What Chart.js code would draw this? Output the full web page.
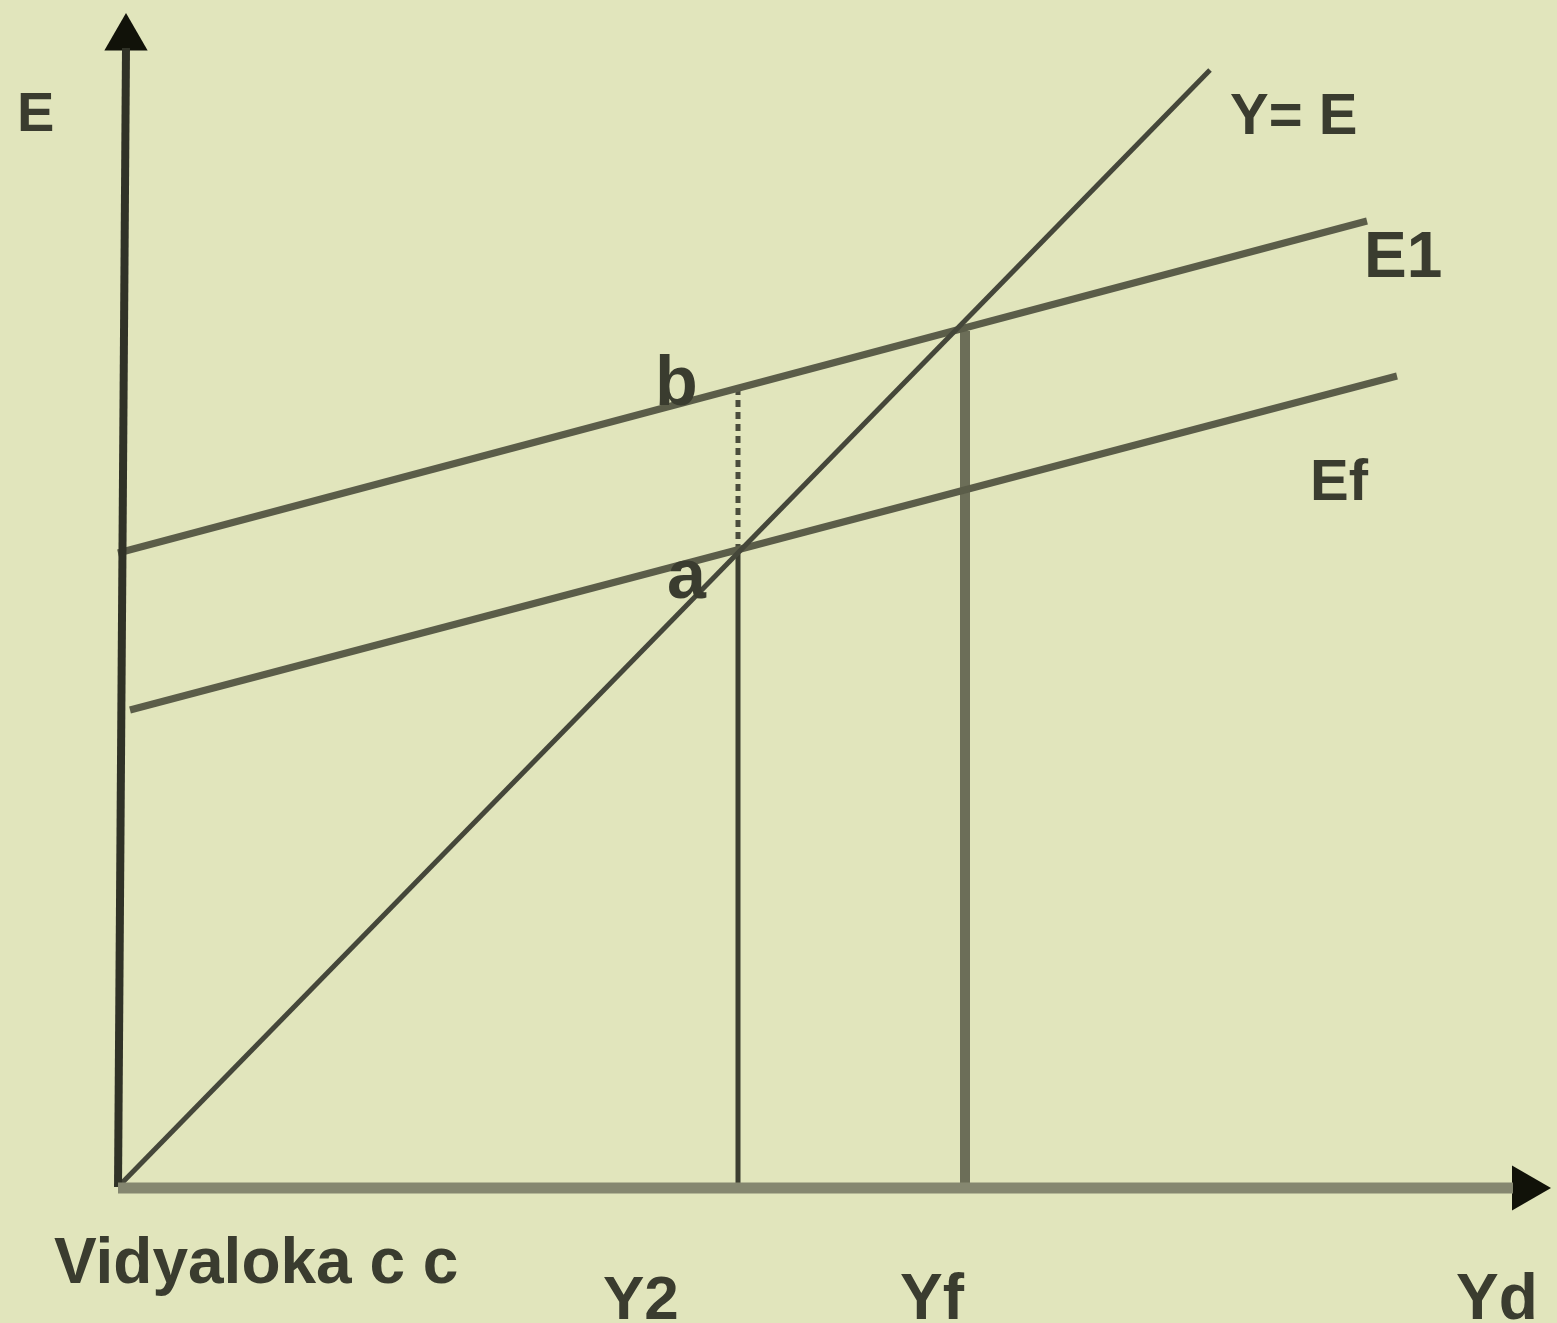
<!DOCTYPE html>
<html><head><meta charset="utf-8">
<script src="https://cdn.jsdelivr.net/npm/chart.js@4/dist/chart.umd.min.js"></script>
<style>html,body{margin:0;padding:0;background:#e1e5bc;overflow:hidden}#wrap{width:1557px;height:1323px}</style>
</head><body><div id="wrap"><canvas id="c" width="1557" height="1323"></canvas></div>
<script>
// Values (income Yd on x, expenditure E on y)
const yEqE_x = [0, 109.2];
const yEqE_y = [0, 111.7];
const e1_x = [0, 124.9];
const e1_y = [63.4, 96.6];
const ef_x = [1.2, 127.9];
const ef_y = [47.7, 81.1];
const y2Income = 62.0;
const yfIncome = 84.7;
const aLevel = 63.6;
const bLevel = 79.7;
const fLevel = 85.6;
const xAxisEnd = 140.7;
const yAxisTop = 114.9;
const labels = ['E', 'Y= E', 'E1', 'Ef', 'b', 'a', 'Vidyaloka c c', 'Y2', 'Yf', 'Yd'];
const labelX = [-10.1, 111.2, 124.6, 119.2, 53.7, 54.9, -6.4, 48.5, 78.2, 133.8];
const labelY = [105.6, 105.3, 91.0, 68.7, 78.2, 58.9, -9.6, -13.2, -13.2, -13.2];

const labelStyle = [
  {size:56}, {size:58}, {size:64}, {size:58}, {size:70}, {size:70},
  {size:64}, {size:62}, {size:64}, {size:64}
];

const pts = (xs, ys) => xs.map((x, i) => ({x, y: ys[i]}));

const bgPlugin = {
  id: 'bg',
  beforeDraw(chart) {
    const c = chart.ctx;
    c.save(); c.fillStyle = '#e1e5bc'; c.fillRect(0, 0, chart.width, chart.height); c.restore();
  }
};
const textPlugin = {
  id: 'texts',
  afterDatasetsDraw(chart) {
    const c = chart.ctx, sx = chart.scales.x, sy = chart.scales.y;
    c.save();
    c.fillStyle = '#3a3c2f';
    c.textBaseline = 'alphabetic';
    c.textAlign = 'left';
    labels.forEach((t, i) => {
      c.font = 'bold ' + labelStyle[i].size + 'px "Liberation Sans", Arial, sans-serif';
      c.fillText(t, sx.getPixelForValue(labelX[i]), sy.getPixelForValue(labelY[i]));
    });
    c.restore();
  }
};

const line = (data, color, width, extra) => Object.assign({
  data, showLine: true, borderColor: color, borderWidth: width, pointRadius: 0,
  fill: false, clip: false, tension: 0, borderCapStyle: 'butt'
}, extra || {});

new Chart(document.getElementById('c'), {
  type: 'scatter',
  data: {
    datasets: [
      line(pts([0, xAxisEnd - 1.2], [-0.1, -0.1]), '#858770', 11),
      line(pts([0, 0.8], [0, yAxisTop - 1]), '#303227', 8),
      line(pts(yEqE_x, yEqE_y), '#45473a', 5),
      line(pts(e1_x, e1_y), '#5b5d49', 7),
      line(pts(ef_x, ef_y), '#5b5d49', 7),
      line(pts([y2Income, y2Income], [0, aLevel]), '#3c3e31', 5),
      line(pts([y2Income, y2Income], [aLevel, bLevel]), '#4a4c3c', 5, {borderDash: [7, 5]}),
      line(pts([yfIncome, yfIncome], [0, fLevel]), '#6c6e58', 10),
      {data: [{x: 0.8, y: yAxisTop}], showLine: false, pointStyle: 'triangle', rotation: 0,
       pointRadius: 25, backgroundColor: '#111209', borderWidth: 0, clip: false},
      {data: [{x: xAxisEnd, y: -0.1}], showLine: false, pointStyle: 'triangle', rotation: 90,
       pointRadius: 26, backgroundColor: '#111209', borderWidth: 0, clip: false}
    ]
  },
  options: {
    responsive: false, animation: false, devicePixelRatio: 1,
    layout: {padding: 0, autoPadding: false},
    events: [],
    plugins: {legend: {display: false}, tooltip: {enabled: false}, title: {display: false}},
    scales: {
      x: {type: 'linear', min: -11.8, max: 143.9, display: false},
      y: {type: 'linear', min: -13.6, max: 118.7, display: false}
    }
  },
  plugins: [bgPlugin, textPlugin]
});
</script></body></html>
